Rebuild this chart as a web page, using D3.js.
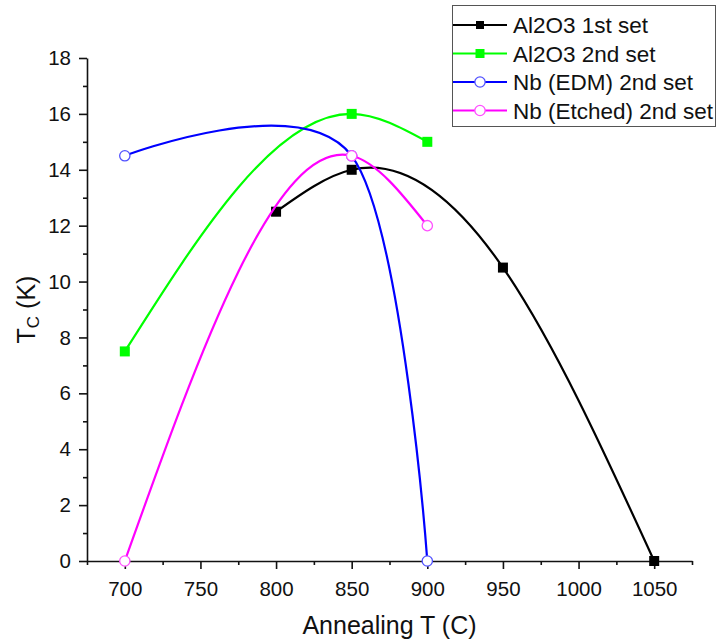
<!DOCTYPE html>
<html>
<head>
<meta charset="utf-8">
<script src="https://cdn.jsdelivr.net/npm/d3@7"></script>
<style>
  body { margin: 0; background: #fff; }
  svg { display: block; font-family: Arial, "Liberation Sans", sans-serif; }
</style>
</head>
<body>
<svg></svg>
<script>
const width = 719;
const height = 640;

// values
const al1X = [800, 850, 950, 1050];
const al1Y = [12.5, 14, 10.5, 0];
const al2X = [700, 850, 900];
const al2Y = [7.5, 16, 15];
const edmX = [700, 850, 900];
const edmY = [14.5, 14.5, 0];
const etchX = [700, 850, 900];
const etchY = [0, 14.5, 12];

const seriesNames = ["Al2O3 1st set", "Al2O3 2nd set", "Nb (EDM) 2nd set", "Nb (Etched) 2nd set"];

const xTicks = [700, 750, 800, 850, 900, 950, 1000, 1050];
const xMinorTicks = [675, 725, 775, 825, 875, 925, 975, 1025, 1075];
const yTicks = [0, 2, 4, 6, 8, 10, 12, 14, 16, 18];
const yMinorTicks = [1, 3, 5, 7, 9, 11, 13, 15, 17];

const svg = d3.select("svg")
  .attr("width", width)
  .attr("height", height);

const x = d3.scaleLinear().domain([675, 1075]).range([87, 692]);
const y = d3.scaleLinear().domain([0, 18]).range([561, 58]);

// natural cubic spline in x, written out as bezier pieces
function curveSplineX(context) {
  let xs, ys;
  return {
    areaStart() {},
    areaEnd() {},
    lineStart() { xs = []; ys = []; },
    point(px, py) { xs.push(+px); ys.push(+py); },
    lineEnd() {
      const n = xs.length;
      if (!n) return;
      context.moveTo(xs[0], ys[0]);
      if (n < 3) {
        if (n === 2) context.lineTo(xs[1], ys[1]);
        return;
      }
      const h = [];
      for (let i = 0; i < n - 1; i++) h.push(xs[i + 1] - xs[i]);
      const m = new Array(n).fill(0);
      const k = n - 2;
      const a = [], b = [], c = [], r = [];
      for (let i = 1; i < n - 1; i++) {
        a.push(h[i - 1]);
        b.push(2 * (h[i - 1] + h[i]));
        c.push(h[i]);
        r.push(6 * ((ys[i + 1] - ys[i]) / h[i] - (ys[i] - ys[i - 1]) / h[i - 1]));
      }
      for (let i = 1; i < k; i++) {
        const w = a[i] / b[i - 1];
        b[i] -= w * c[i - 1];
        r[i] -= w * r[i - 1];
      }
      m[k] = r[k - 1] / b[k - 1];
      for (let i = k - 2; i >= 0; i--) {
        m[i + 1] = (r[i] - c[i] * m[i + 2]) / b[i];
      }
      for (let i = 0; i < n - 1; i++) {
        const s = (ys[i + 1] - ys[i]) / h[i];
        const d0 = s - h[i] * (2 * m[i] + m[i + 1]) / 6;
        const d1 = s + h[i] * (m[i] + 2 * m[i + 1]) / 6;
        context.bezierCurveTo(
          xs[i] + h[i] / 3, ys[i] + d0 * h[i] / 3,
          xs[i + 1] - h[i] / 3, ys[i + 1] - d1 * h[i] / 3,
          xs[i + 1], ys[i + 1]
        );
      }
    }
  };
}

const series = [
  { name: seriesNames[0], xs: al1X, ys: al1Y, color: "#000000", edge: "#000000", marker: "square", curve: curveSplineX },
  { name: seriesNames[1], xs: al2X, ys: al2Y, color: "#00ff00", edge: "#00ff00", marker: "square", curve: curveSplineX },
  { name: seriesNames[2], xs: edmX, ys: edmY, color: "#0000ff", edge: "#5050ff", marker: "circle", curve: d3.curveCardinal },
  { name: seriesNames[3], xs: etchX, ys: etchY, color: "#ff00ff", edge: "#ff50ff", marker: "circle", curve: curveSplineX }
];

// axes
const xAxisG = svg.append("g").attr("transform", `translate(0,${y(0)})`);
xAxisG.append("g")
  .call(d3.axisBottom(x).tickValues(xMinorTicks).tickSize(4).tickFormat(""));
xAxisG.append("g")
  .call(d3.axisBottom(x).tickValues(xTicks).tickSize(8).tickSizeOuter(0).tickPadding(12).tickFormat(d3.format("d")));

const yAxisG = svg.append("g").attr("transform", `translate(${x(675)},0)`);
yAxisG.append("g")
  .call(d3.axisLeft(y).tickValues(yMinorTicks).tickSize(4).tickFormat(""));
yAxisG.append("g")
  .call(d3.axisLeft(y).tickValues(yTicks).tickSize(8).tickSizeOuter(0).tickPadding(8).tickFormat(d3.format("d")));

svg.selectAll(".domain").attr("stroke", "#111").attr("stroke-width", 1.6);
svg.selectAll(".tick line").attr("stroke", "#111").attr("stroke-width", 1.6);
svg.selectAll(".tick text")
  .attr("font-family", "Arial, 'Liberation Sans', sans-serif")
  .attr("font-size", 20.5)
  .attr("fill", "#111");
xAxisG.selectAll(".domain").filter((d, i) => i === 0).remove();
yAxisG.selectAll(".domain").filter((d, i) => i === 0).remove();

// axis titles
svg.append("text")
  .attr("x", (x(675) + x(1075)) / 2)
  .attr("y", 634)
  .attr("text-anchor", "middle")
  .attr("font-size", 25)
  .attr("fill", "#111")
  .text("Annealing T (C)");

const yTitle = svg.append("text")
  .attr("transform", `translate(35,${(y(0) + y(18)) / 2}) rotate(-90)`)
  .attr("text-anchor", "middle")
  .attr("font-size", 25)
  .attr("fill", "#111");
yTitle.append("tspan").text("T");
yTitle.append("tspan").attr("font-size", 17).attr("dy", 4).text("C");
yTitle.append("tspan").attr("dy", -4).text(" (K)");

// series
const line = d3.line()
  .x(d => x(d[0]))
  .y(d => y(d[1]));

function drawMarker(g, m, px, py, size, s) {
  if (m === "square") {
    g.append("rect")
      .attr("x", px - size / 2)
      .attr("y", py - size / 2)
      .attr("width", size)
      .attr("height", size)
      .attr("fill", s.color);
  } else {
    g.append("circle")
      .attr("cx", px)
      .attr("cy", py)
      .attr("r", size / 2 - 0.6)
      .attr("fill", "#fff")
      .attr("stroke", s.edge)
      .attr("stroke-width", 1.3);
  }
}

series.forEach(function(s) {
  const pts = s.xs.map((v, i) => [v, s.ys[i]]);
  const g = svg.append("g");
  g.append("path")
    .attr("d", line.curve(s.curve)(pts))
    .attr("fill", "none")
    .attr("stroke", s.color)
    .attr("stroke-width", 2.2);
  pts.forEach(function(p) {
    drawMarker(g, s.marker, x(p[0]), y(p[1]), s.marker === "square" ? 10 : 11.5, s);
  });
});

// legend
const legend = svg.append("g");
legend.append("rect")
  .attr("x", 452.5)
  .attr("y", 5.5)
  .attr("width", 263)
  .attr("height", 121)
  .attr("fill", "#fff")
  .attr("stroke", "#555")
  .attr("stroke-width", 1);

series.forEach(function(s, i) {
  const ly = 25 + i * 28.5;
  const row = legend.append("g");
  row.append("line")
    .attr("x1", 453)
    .attr("x2", 507)
    .attr("y1", ly)
    .attr("y2", ly)
    .attr("stroke", s.color)
    .attr("stroke-width", 2);
  drawMarker(row, s.marker, 480, ly, s.marker === "square" ? (i === 0 ? 8 : 9) : 11.5, s);
  row.append("text")
    .attr("x", 513)
    .attr("y", ly)
    .attr("dy", "0.36em")
    .attr("font-size", 22.5)
    .attr("fill", "#111")
    .text(s.name);
});
</script>
</body>
</html>
